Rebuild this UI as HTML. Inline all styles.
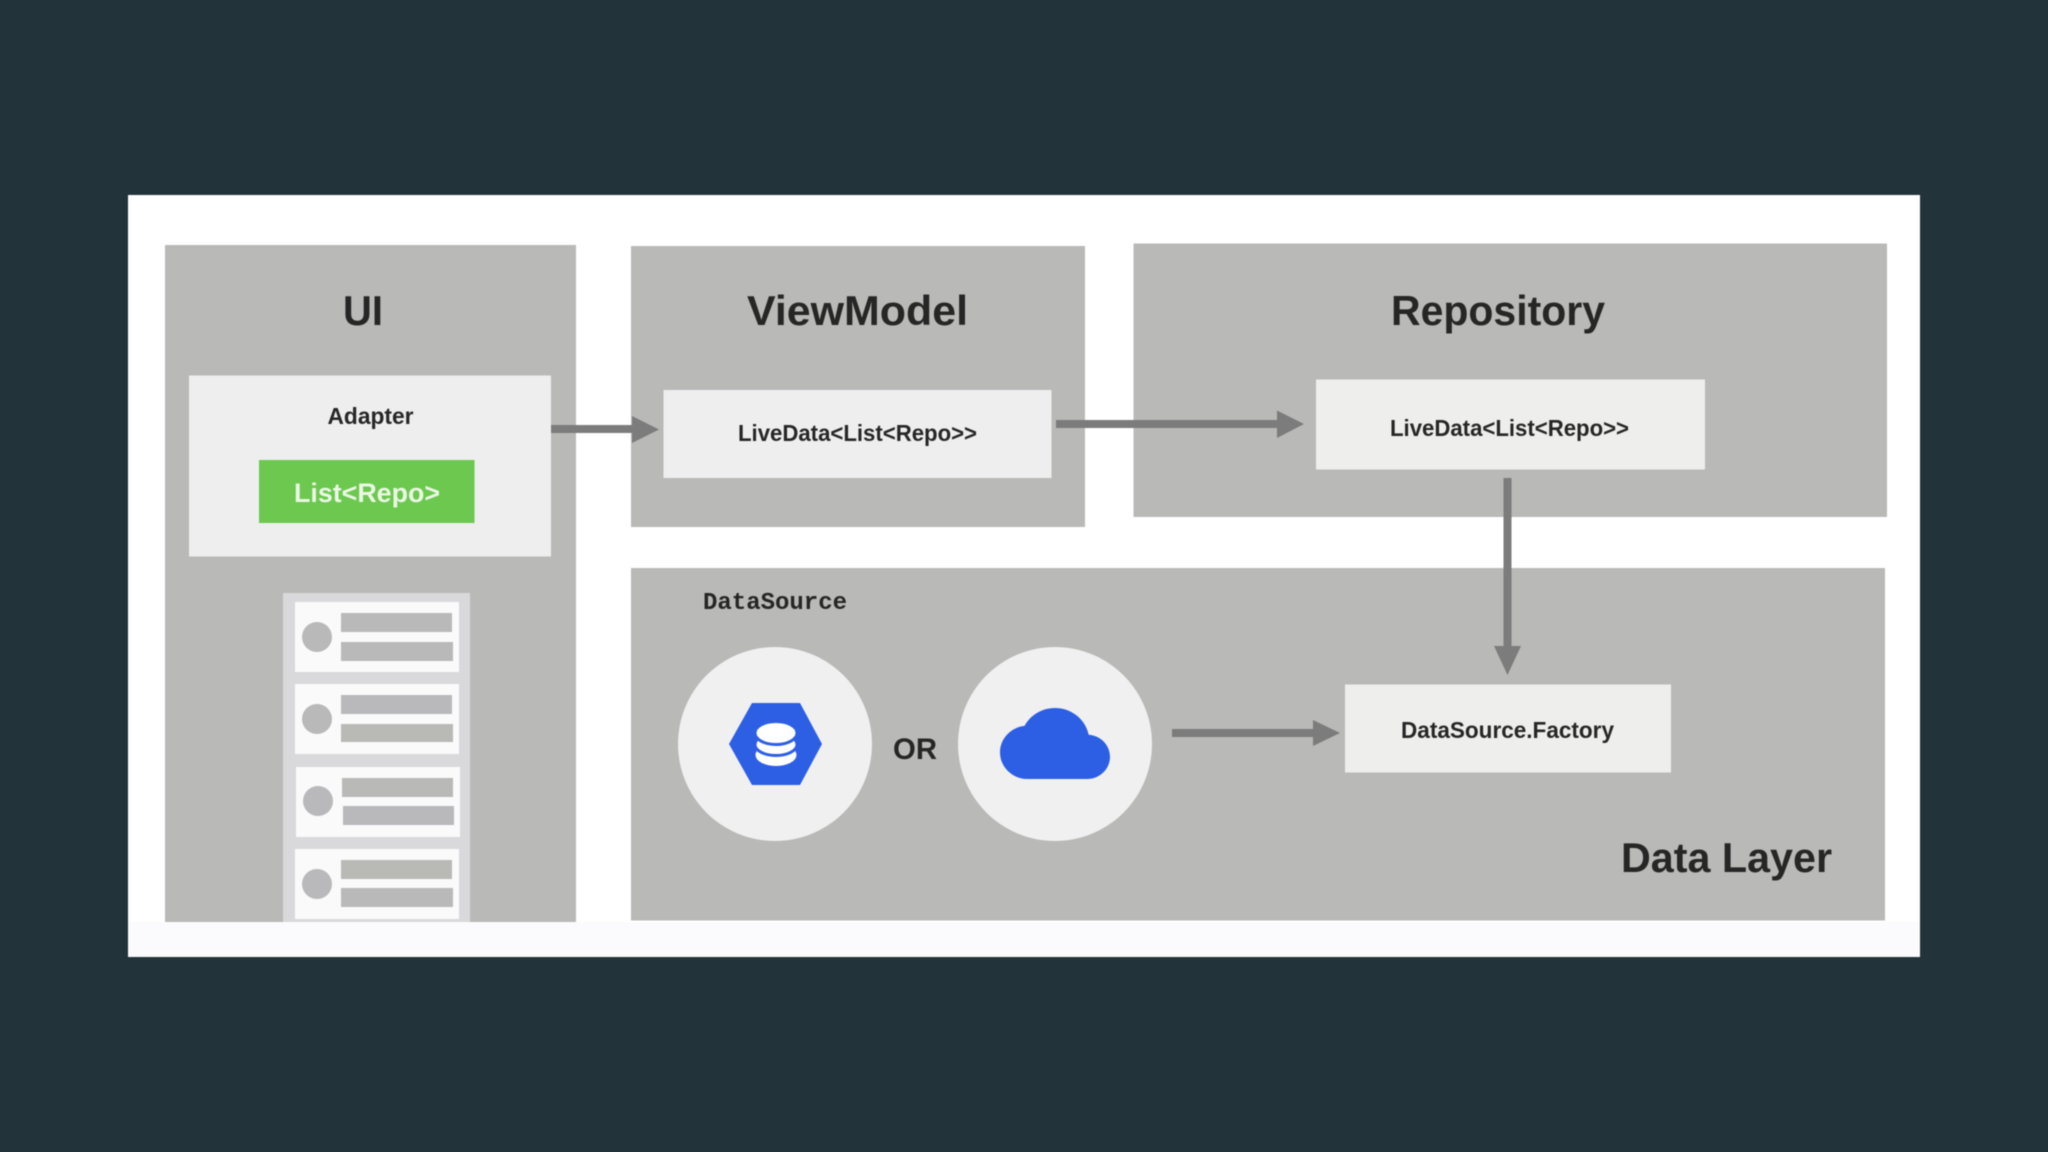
<!DOCTYPE html>
<html><head><meta charset="utf-8"><style>
html,body{margin:0;padding:0;background:#23333a;width:2048px;height:1152px;overflow:hidden}
svg{display:block;filter:blur(.5px)}
text{font-family:"Liberation Sans",sans-serif;font-weight:700;fill:#262626}
</style></head><body>
<svg width="2048" height="1152" viewBox="0 0 2048 1152" xmlns="http://www.w3.org/2000/svg">
<rect width="2048" height="1152" fill="#23333a"/>
<rect x="128" y="195" width="1792" height="762" fill="#ffffff"/>
<rect x="128" y="922" width="1792" height="35" fill="#fbfbfd"/>

<!-- panels -->
<rect x="165" y="245" width="411" height="677" fill="#b9b9b7"/>
<rect x="631" y="246" width="454" height="281" fill="#b9b9b7"/>
<rect x="1133.5" y="243.5" width="753.5" height="273.5" fill="#b9b9b7"/>
<rect x="631" y="568" width="1254" height="352.5" fill="#b9b9b7"/>

<!-- headings -->
<text x="343" y="325" font-size="42" textLength="40" lengthAdjust="spacingAndGlyphs">UI</text>
<text x="747" y="325" font-size="42" textLength="221" lengthAdjust="spacingAndGlyphs">ViewModel</text>
<text x="1391" y="325" font-size="42" textLength="214" lengthAdjust="spacingAndGlyphs">Repository</text>
<text x="1621" y="872" font-size="42" textLength="211" lengthAdjust="spacingAndGlyphs">Data Layer</text>

<!-- adapter -->
<rect x="189" y="375.5" width="362" height="181" fill="#eeeeef"/>
<text x="327.5" y="424" font-size="23" textLength="86" lengthAdjust="spacingAndGlyphs">Adapter</text>
<rect x="259" y="460" width="215.5" height="63" fill="#6cc84e"/>
<text x="294" y="502" font-size="27" textLength="146" lengthAdjust="spacingAndGlyphs" style="fill:#eaf7e4">List&lt;Repo&gt;</text>

<!-- list -->
<rect x="283" y="593" width="187" height="329" fill="#d9d9db"/>
<g>
<rect x="295" y="602" width="164" height="70" fill="#fafafb"/>
<circle cx="317" cy="637" r="15" fill="#b9b9b9"/>
<rect x="341" y="613" width="111" height="19" fill="#b9b9b9"/>
<rect x="341" y="642" width="112" height="19" fill="#b9b9b9"/>
</g>
<g>
<rect x="295" y="684" width="164" height="70" fill="#fafafb"/>
<circle cx="317" cy="719" r="15" fill="#b9b9b9"/>
<rect x="341" y="695" width="111" height="19" fill="#b9b9bb"/>
<rect x="341" y="724" width="112" height="18" fill="#b9b9b5"/>
</g>
<g>
<rect x="296" y="767" width="164" height="70" fill="#fafafb"/>
<circle cx="318" cy="801" r="15" fill="#b9b9bb"/>
<rect x="342" y="778" width="111" height="19" fill="#b9b9b7"/>
<rect x="343" y="806" width="111" height="19" fill="#b9b9bb"/>
</g>
<g>
<rect x="295" y="849" width="164" height="70" fill="#fafafb"/>
<circle cx="317" cy="884" r="15" fill="#b9b9bb"/>
<rect x="341" y="860" width="111" height="19" fill="#b9b9b5"/>
<rect x="341" y="888" width="112" height="19" fill="#b9b9b9"/>
</g>

<!-- LiveData boxes -->
<rect x="663.5" y="390" width="388" height="88" fill="#eeeeef"/>
<text x="738" y="441" font-size="23" textLength="239" lengthAdjust="spacingAndGlyphs">LiveData&lt;List&lt;Repo&gt;&gt;</text>
<rect x="1316" y="379.5" width="389" height="90" fill="#eeeeed"/>
<text x="1390" y="436" font-size="23" textLength="239" lengthAdjust="spacingAndGlyphs">LiveData&lt;List&lt;Repo&gt;&gt;</text>
<rect x="1345" y="684.5" width="326" height="88" fill="#eeeeed"/>
<text x="1401" y="738" font-size="23" textLength="213" lengthAdjust="spacingAndGlyphs">DataSource.Factory</text>

<!-- arrows -->
<g fill="#7c7c7c">
<rect x="551" y="425" width="82" height="8"/>
<polygon points="632,416 659,429.5 632,443"/>
<rect x="1056" y="420" width="222" height="8"/>
<polygon points="1277,410.5 1304,424 1277,438"/>
<rect x="1503.5" y="478" width="8" height="169"/>
<polygon points="1494,646 1521,646 1507.5,675"/>
<rect x="1172" y="729" width="142" height="8"/>
<polygon points="1313,720 1340,733 1313,746"/>
</g>

<!-- datasource -->
<text x="703" y="609" font-size="24" textLength="144" style="font-family:'Liberation Mono',monospace">DataSource</text>
<circle cx="775" cy="744" r="97" fill="#f0f0f1"/>
<circle cx="1055" cy="744" r="97" fill="#f0f0f1"/>
<text x="893" y="759" font-size="30" textLength="44" lengthAdjust="spacingAndGlyphs">OR</text>
<polygon points="729,744 752,703 800,703 822,744 800,785 752,785" fill="#2c5fe3"/>
<g fill="#ffffff">
<ellipse cx="776" cy="755" rx="20.5" ry="11"/>
<ellipse cx="776" cy="744.5" rx="21" ry="11" stroke="#2c5fe3" stroke-width="3"/>
<ellipse cx="776" cy="733" rx="21" ry="11.5" stroke="#2c5fe3" stroke-width="3"/>
</g>
<path transform="translate(1000,690.2) scale(4.583,4.44)" fill="#2c5fe3" d="M19.35 10.04C18.67 6.59 15.64 4 12 4 9.11 4 6.6 5.64 5.35 8.04 2.34 8.36 0 10.91 0 14c0 3.31 2.69 6 6 6h13c2.76 0 5-2.24 5-5 0-2.64-2.05-4.78-4.65-4.96z"/>
</svg>
</body></html>
